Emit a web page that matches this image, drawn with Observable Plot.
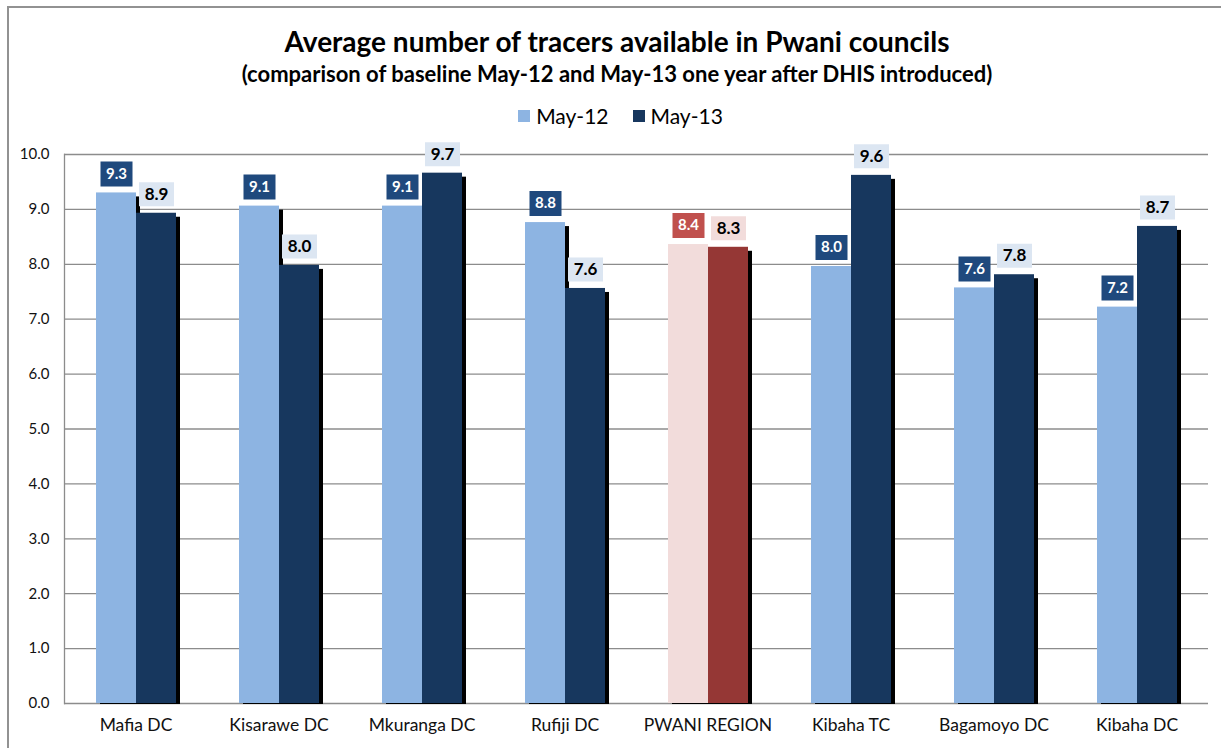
<!DOCTYPE html>
<html>
<head>
<meta charset="utf-8">
<script src="https://cdn.jsdelivr.net/npm/d3@7"></script>
<script src="https://cdn.jsdelivr.net/npm/@observablehq/plot@0.6"></script>
<style>
  body { margin: 0; background: #fff; font-family: Lato, "Open Sans", sans-serif; color: #000; }
  #border { position: absolute; left: 7px; top: 6px; width: 1300px; height: 800px; border: 2px solid #929292; box-sizing: border-box; }
  #wrap { position: absolute; left: 0; top: 0; width: 1221px; }
  #header { position: relative; height: 130px; }
  .title { position: absolute; left: 0; width: 1234px; text-align: center; font-weight: bold; white-space: nowrap; }
  #t1 { top: 22px; font-size: 28px; line-height: 38px; }
  #t2 { top: 61px; font-size: 22px; line-height: 26px; }
  #legend { position: absolute; top: 104px; left: 0; width: 1241px; display: flex; justify-content: center; gap: 24px; font-size: 21px; line-height: 24px; }
  .item { display: flex; align-items: center; gap: 6px; }
  .sw { width: 12px; height: 12px; display: inline-block; }
</style>
</head>
<body>
<div id="border"></div>
<div id="wrap">
  <div id="header">
    <div class="title" id="t1"></div>
    <div class="title" id="t2"></div>
    <div id="legend"></div>
  </div>
  <div id="chart"></div>
</div>
<script>
const titleText = "Average number of tracers available in Pwani councils";
const subtitleText = "(comparison of baseline May-12 and May-13 one year after DHIS introduced)";
const categories = ["Mafia DC", "Kisarawe DC", "Mkuranga DC", "Rufiji DC", "PWANI REGION", "Kibaha TC", "Bagamoyo DC", "Kibaha DC"];
const seriesNames = ["May-12", "May-13"];
const may12 = [9.30, 9.06, 9.06, 8.76, 8.36, 7.96, 7.57, 7.22];
const may13 = [8.93, 7.98, 9.66, 7.56, 8.31, 9.62, 7.81, 8.69];
const yTicks = [0, 1, 2, 3, 4, 5, 6, 7, 8, 9, 10];
const regionName = "PWANI REGION";

const colors = {
  "May-12": { bar: "#8db4e2", box: "#1f497d", text: "#ffffff" },
  "May-13": { bar: "#17375e", box: "#dce6f2", text: "#000000" }
};
const regionColors = {
  "May-12": { bar: "#f2dcdb", box: "#c0504d", text: "#ffffff" },
  "May-13": { bar: "#953735", box: "#f2dcdb", text: "#000000" }
};
const pal = d => (d.cat === regionName ? regionColors : colors)[d.series];

const data = categories.flatMap((c, i) => [
  { cat: c, series: seriesNames[0], value: may12[i] },
  { cat: c, series: seriesNames[1], value: may13[i] }
]);

document.getElementById("t1").textContent = titleText;
document.getElementById("t2").textContent = subtitleText;
const legend = document.getElementById("legend");
seriesNames.forEach(s => {
  const it = document.createElement("div");
  it.className = "item";
  const sw = document.createElement("span");
  sw.className = "sw";
  sw.style.background = colors[s].bar;
  const lb = document.createElement("span");
  lb.textContent = s;
  it.appendChild(sw); it.appendChild(lb);
  legend.appendChild(it);
});

const boxSymbol = (w, h) => ({ draw(ctx) { ctx.rect(-w / 2, -h / 2, w, h); } });

const chart = Plot.plot({
  width: 1221,
  height: 618,
  marginTop: 24,
  marginBottom: 45,
  marginLeft: 63,
  marginRight: 12,
  style: { fontFamily: "Lato, 'Open Sans', sans-serif", color: "#111", background: "transparent" },
  fx: { domain: categories, padding: 0, label: null },
  x: { domain: seriesNames, paddingInner: 0, paddingOuter: 0.765, axis: null },
  y: { domain: [0, 10], label: null },
  color: { type: "identity" },
  marks: [
    Plot.ruleY(yTicks, { stroke: "#8c8c8c", strokeWidth: 1.3 }),
    Plot.frame({ anchor: "left", facet: "super", stroke: "#8c8c8c", strokeWidth: 1.3 }),
    Plot.axisY({ ticks: yTicks, tickFormat: d => d.toFixed(1), tickSize: 0, tickPadding: 15, fontSize: 15, label: null }),
    Plot.axisFx({ anchor: "bottom", tickSize: 0, tickPadding: 15, fontSize: 17.5, label: null }),
    Plot.barY(data, { fx: "cat", x: "series", y: "value", fill: "#000", dx: 4, dy: 4, insetBottom: 3 }),
    Plot.barY(data, { fx: "cat", x: "series", y: "value", fill: d => pal(d).bar }),
    Plot.dot(data.filter(d => d.series === seriesNames[0]), { fx: "cat", x: "series", y: "value", dy: -19, symbol: boxSymbol(32, 25), fill: d => pal(d).box, stroke: null }),
    Plot.dot(data.filter(d => d.series === seriesNames[1]), { fx: "cat", x: "series", y: "value", dy: -19, symbol: boxSymbol(35, 24), fill: d => pal(d).box, stroke: null }),
    Plot.text(data.filter(d => d.series === seriesNames[0]), { fx: "cat", x: "series", y: "value", dy: -19, text: d => d.value.toFixed(1), fill: d => pal(d).text, fontWeight: "bold", fontSize: 15 }),
    Plot.text(data.filter(d => d.series === seriesNames[1]), { fx: "cat", x: "series", y: "value", dy: -19, text: d => d.value.toFixed(1), fill: d => pal(d).text, fontWeight: "bold", fontSize: 17 })
  ]
});
document.getElementById("chart").appendChild(chart);
</script>
</body>
</html>
